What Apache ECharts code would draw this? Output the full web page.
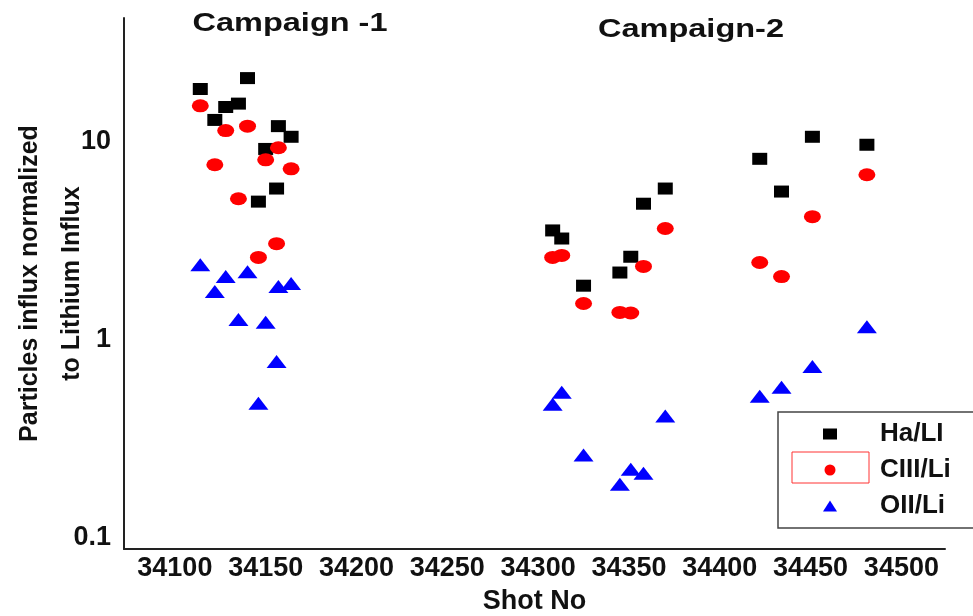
<!DOCTYPE html>
<html>
<head>
<meta charset="utf-8">
<script src="https://cdn.jsdelivr.net/npm/echarts@6/dist/echarts.min.js"></script>
<style>
  html, body { margin: 0; padding: 0; background: #fff; }
  #chart { width: 973px; height: 616px; }
</style>
</head>
<body>
<div id="chart"></div>
<script>
// shot numbers, same shot for all three ratios
const shots = [34114, 34122, 34128, 34135, 34140, 34146, 34150, 34156, 34157, 34164,
  34308, 34313, 34325, 34345, 34351, 34358, 34370,
  34422, 34434, 34451, 34481];
const haLi = [18.5, 12.9, 15.0, 15.6, 21.0, 4.98, 9.2, 5.8, 12.0, 10.6,
  3.56, 3.24, 1.87, 2.18, 2.62, 4.86, 5.8,
  8.2, 5.6, 10.6, 9.66];
const ciiiLi = [15.2, 7.65, 11.4, 5.15, 12.0, 2.6, 8.1, 3.05, 9.33, 7.3,
  2.6, 2.66, 1.52, 1.37, 1.36, 2.34, 3.64,
  2.45, 2.08, 4.18, 6.81];
const oiiLi = [2.39, 1.75, 2.08, 1.26, 2.2, 0.475, 1.22, 0.774, 1.85, 1.92,
  0.47, 0.54, 0.26, 0.185, 0.22, 0.21, 0.41,
  0.515, 0.573, 0.73, 1.16];
const seriesNames = ['Ha/LI', 'CIII/Li', 'OII/Li'];
const campaignTitles = ['Campaign -1', 'Campaign-2'];

const font = '"Liberation Sans", Arial, sans-serif';

function pairs(values) {
  return shots.map((s, i) => [s, values[i]]);
}

const chart = echarts.init(document.getElementById('chart'));

const option = {
  animation: false,
  backgroundColor: '#fff',
  grid: { left: 124, right: 28, top: 18, bottom: 67, outerBoundsMode: 'none', containLabel: false },
  xAxis: {
    type: 'value',
    min: 34072,
    max: 34524,
    minInterval: 50,
    maxInterval: 50,
    name: 'Shot No',
    nameLocation: 'middle',
    nameGap: 39,
    nameMoveOverlap: false,
    nameTextStyle: { fontFamily: font, fontWeight: 'bold', fontSize: 27, color: '#111' },
    axisLine: { lineStyle: { color: '#222', width: 2 } },
    axisTick: { show: false },
    splitLine: { show: false },
    axisLabel: {
      margin: 6,
      fontFamily: font,
      fontWeight: 'bold',
      fontSize: 27,
      color: '#111',
      formatter: v => (v % 50 === 0 ? String(v) : '')
    }
  },
  yAxis: {
    type: 'log',
    logBase: 10,
    min: 0.087,
    max: 42.3,
    name: 'Particles influx normalized\nto Lithium Influx',
    nameLocation: 'middle',
    nameRotate: 90,
    nameGap: 31,
    nameMoveOverlap: false,
    nameTextStyle: { fontFamily: font, fontWeight: 'bold', fontSize: 25, lineHeight: 42, color: '#111' },
    axisLine: { show: true, lineStyle: { color: '#222', width: 2 } },
    axisTick: { show: false },
    splitLine: { show: false },
    axisLabel: {
      margin: 13,
      fontFamily: font,
      fontWeight: 'bold',
      fontSize: 27,
      color: '#111',
      formatter: v => {
        const l = Math.log10(v);
        return Math.abs(l - Math.round(l)) < 1e-6 ? String(Math.pow(10, Math.round(l))) : '';
      }
    }
  },
  legend: {
    orient: 'vertical',
    left: 778,
    top: 412,
    padding: [9, 30, 9, 45],
    itemGap: 10,
    itemWidth: 14,
    itemHeight: 11,
    borderColor: '#444',
    borderWidth: 1.5,
    data: seriesNames,
    textStyle: {
      fontFamily: font,
      fontWeight: 'bold',
      fontSize: 26,
      lineHeight: 24,
      color: '#111',
      padding: [0, 0, 0, 38]
    }
  },
  graphic: [
    {
      type: 'text', x: 290, y: 24, scaleX: 1.3,
      style: { text: campaignTitles[0], font: 'bold 25px ' + font, fill: '#111', textAlign: 'center', textVerticalAlign: 'middle' }
    },
    {
      type: 'text', x: 691, y: 30, scaleX: 1.3,
      style: { text: campaignTitles[1], font: 'bold 25px ' + font, fill: '#111', textAlign: 'center', textVerticalAlign: 'middle' }
    },
    {
      type: 'rect', shape: { x: 792, y: 452, width: 77, height: 31 },
      style: { fill: 'none', stroke: '#ff3333', lineWidth: 1 }, z: 10
    }
  ],
  series: [
    {
      name: seriesNames[0], type: 'scatter', symbol: 'rect', symbolSize: [15, 12],
      itemStyle: { color: '#000', opacity: 1 }, data: pairs(haLi)
    },
    {
      name: seriesNames[1], type: 'scatter', symbol: 'circle', symbolSize: [17, 13],
      itemStyle: { color: '#ff0000', opacity: 1 }, data: pairs(ciiiLi)
    },
    {
      name: seriesNames[2], type: 'scatter', symbol: 'triangle', symbolSize: [20, 13],
      itemStyle: { color: '#0000ff', opacity: 1 }, data: pairs(oiiLi)
    }
  ]
};

chart.setOption(option);
</script>
</body>
</html>
